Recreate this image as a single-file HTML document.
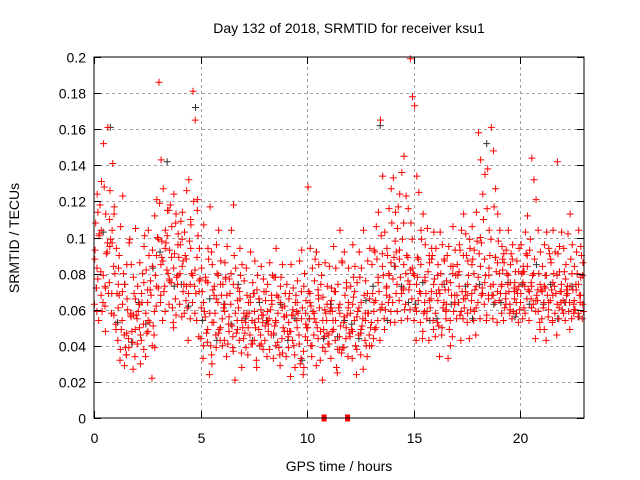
<!DOCTYPE html>
<html><head><meta charset="utf-8">
<style>
html,body{margin:0;padding:0;background:#fff;}
svg{display:block;font-family:"Liberation Sans",sans-serif;}
</style></head>
<body>
<svg id="chart" width="640" height="480" viewBox="0 0 640 480" xmlns="http://www.w3.org/2000/svg">
<rect width="640" height="480" fill="#fff"/>
<g id="grid"></g>
<g id="points"></g>
<rect x="94" y="57" width="490" height="361" fill="none" stroke="#000" stroke-width="1"/>
<g id="axes"></g>
<text x="349" y="33" font-size="14" text-anchor="middle">Day 132 of 2018, SRMTID for receiver ksu1</text>
<text x="19" y="238" font-size="14" text-anchor="middle" transform="rotate(-90 19 238)">SRMTID / TECUs</text>
<text x="339" y="471" font-size="14" text-anchor="middle">GPS time / hours</text>
</svg>
<script>
const xTicks=[0,5,10,15,20];
const yTicks=[0,0.02,0.04,0.06,0.08,0.1,0.12,0.14,0.16,0.18,0.2];
const yTickLabels=["0","0.02","0.04","0.06","0.08","0.1","0.12","0.14","0.16","0.18","0.2"];
const redUpper=[
.093,.124,.102,.131,.152,.113,.161,.126,.104,.117,
.094,.083,.106,.123,.074,.066,.097,.085,.078,.105,
.073,.086,.064,.095,.082,.104,.076,.093,.112,.121,
.186,.143,.127,.104,.115,.093,.106,.124,.113,.102,
.096,.114,.103,.126,.132,.107,.181,.165,.121,.094,
.083,.107,.076,.094,.117,.085,.073,.096,.104,.087,
.074,.086,.095,.077,.104,.118,.083,.072,.094,.085,
.076,.083,.064,.092,.075,.087,.071,.066,.084,.077,
.065,.074,.086,.063,.078,.094,.067,.073,.085,.062,
.074,.066,.085,.072,.064,.076,.087,.093,.073,.065,
.128,.094,.083,.076,.092,.085,.074,.067,.086,.073,
.084,.072,.095,.083,.074,.104,.086,.092,.075,.083,
.073,.096,.084,.075,.092,.083,.104,.076,.087,.094,
.085,.093,.106,.114,.165,.134,.103,.094,.116,.127,
.133,.114,.105,.124,.136,.145,.123,.116,.199,.178,
.173,.134,.125,.104,.113,.096,.105,.086,.094,.103,
.094,.085,.103,.096,.087,.076,.095,.084,.106,.093,
.085,.096,.104,.113,.102,.087,.094,.106,.093,.114,
.158,.143,.124,.135,.116,.104,.161,.148,.127,.113,
.104,.095,.086,.093,.104,.085,.096,.075,.087,.094,
.096,.084,.103,.112,.093,.144,.132,.121,.104,.092,
.084,.096,.103,.094,.086,.104,.092,.142,.095,.103,
.094,.085,.102,.113,.096,.084,.092,.104,.095,.086];
const redLower=[
.063,.072,.054,.081,.064,.073,.092,.075,.058,.084,
.052,.043,.032,.054,.046,.035,.044,.057,.042,.034,
.055,.063,.043,.052,.034,.064,.053,.022,.046,.062,
.072,.064,.054,.073,.082,.063,.075,.053,.066,.074,
.063,.056,.074,.065,.043,.055,.064,.073,.054,.045,
.044,.033,.056,.042,.024,.035,.053,.046,.064,.043,
.055,.043,.034,.052,.063,.045,.021,.054,.043,.036,
.044,.053,.035,.046,.054,.043,.032,.055,.046,.053,
.043,.034,.055,.046,.033,.054,.042,.035,.044,.056,
.034,.045,.023,.043,.035,.054,.046,.033,.024,.045,
.043,.055,.034,.046,.053,.044,.032,.021,.045,.054,
.046,.033,.054,.043,.025,.045,.036,.053,.044,.034,
.045,.033,.054,.024,.046,.035,.055,.043,.034,.046,
.053,.044,.065,.054,.043,.063,.055,.072,.064,.053,
.064,.053,.074,.065,.054,.072,.063,.055,.074,.066,
.054,.043,.065,.053,.044,.064,.055,.043,.066,.054,
.045,.053,.034,.046,.064,.055,.033,.054,.045,.063,
.055,.064,.043,.055,.066,.053,.044,.065,.054,.046,
.064,.055,.072,.063,.054,.066,.073,.055,.064,.053,
.065,.073,.054,.066,.074,.063,.055,.072,.064,.053,
.064,.055,.073,.066,.054,.075,.063,.044,.065,.053,
.055,.064,.043,.056,.065,.054,.073,.046,.055,.064,
.065,.054,.073,.064,.055,.063,.074,.056,.064,.055];
const redDenseA=[
.088,.059,.101,.068,.079,.048,.097,.110,.069,.057,
.049,.061,.038,.070,.029,.047,.039,.058,.027,.049,
.041,.050,.069,.038,.058,.048,.071,.040,.059,.090,
.099,.068,.087,.059,.101,.077,.089,.050,.108,.079,
.080,.099,.058,.088,.069,.110,.079,.058,.089,.070,
.061,.040,.078,.049,.058,.030,.068,.039,.079,.050,
.040,.059,.068,.048,.080,.037,.058,.049,.070,.028,
.058,.039,.050,.067,.041,.059,.028,.049,.060,.038,
.051,.059,.038,.068,.047,.040,.058,.029,.061,.048,
.057,.039,.048,.060,.028,.050,.041,.070,.037,.058,
.050,.069,.040,.058,.029,.068,.048,.039,.060,.047,
.041,.061,.049,.070,.038,.058,.087,.039,.050,.061,
.058,.048,.070,.038,.061,.049,.027,.058,.069,.040,
.040,.059,.050,.078,.060,.091,.049,.068,.080,.059,
.077,.098,.059,.088,.069,.108,.080,.089,.060,.099,
.079,.059,.088,.069,.048,.078,.059,.090,.070,.049,
.058,.079,.069,.050,.088,.060,.071,.040,.080,.068,
.068,.081,.059,.090,.070,.058,.099,.069,.080,.061,
.078,.100,.069,.088,.057,.079,.099,.068,.089,.070,
.080,.058,.091,.069,.079,.060,.088,.070,.058,.081,
.069,.081,.058,.090,.070,.061,.080,.059,.071,.049,
.070,.049,.079,.060,.088,.068,.058,.079,.061,.070,
.058,.077,.069,.049,.080,.060,.071,.058,.068,.079];
const redDenseB=[
.108,.077,.118,.059,.128,.091,.069,.099,.141,.080,
.069,.090,.049,.080,.039,.060,.099,.048,.069,.057,
.059,.030,.080,.101,.047,.090,.068,.051,.079,.100,
.119,.089,.070,.097,.080,.118,.061,.091,.078,.089,
.109,.070,.090,.061,.098,.080,.120,.069,.101,.077,
.070,.059,.047,.088,.040,.071,.058,.080,.049,.068,
.061,.077,.041,.069,.051,.090,.047,.061,.079,.050,
.047,.068,.058,.041,.069,.050,.079,.040,.057,.070,
.070,.048,.060,.079,.051,.068,.039,.078,.050,.069,
.048,.069,.057,.040,.068,.058,.030,.061,.080,.050,
.070,.040,.059,.088,.050,.061,.079,.049,.058,.041,
.059,.048,.070,.028,.061,.051,.039,.068,.057,.047,
.049,.067,.040,.059,.078,.051,.068,.040,.058,.050,
.069,.049,.088,.070,.101,.079,.060,.090,.067,.108,
.089,.069,.117,.078,.099,.060,.090,.071,.108,.080,
.061,.089,.070,.099,.058,.069,.081,.061,.090,.077,
.069,.051,.080,.061,.071,.090,.049,.068,.059,.079,
.079,.057,.070,.061,.090,.079,.060,.088,.071,.098,
.091,.068,.110,.079,.138,.090,.068,.117,.081,.098,
.069,.088,.061,.080,.070,.091,.059,.081,.069,.060,
.080,.061,.091,.071,.099,.079,.088,.068,.080,.071,
.061,.079,.068,.091,.071,.080,.069,.091,.070,.060,
.081,.068,.059,.088,.071,.060,.080,.068,.090,.059];
const redMid=[
.083,.104,.072,.095,.113, .074,.063,.085,.056,.066, .063,.075,.054,.084,.073, .085,.094,.076,.083,.096,
.084,.073,.094,.082,.076, .064,.075,.053,.066,.074, .063,.056,.074,.065,.054, .056,.064,.053,.066,.057,
.054,.065,.053,.064,.056, .053,.057,.064,.055,.052, .064,.055,.066,.054,.063, .065,.054,.063,.056,.064,
.063,.056,.064,.054,.066, .064,.075,.084,.073,.086, .084,.093,.085,.076,.083, .074,.085,.076,.065,.074,
.065,.074,.063,.075,.064, .073,.066,.074,.085,.073, .084,.075,.083,.074,.086, .074,.063,.075,.066,.073,
.075,.084,.073,.065,.074, .073,.064,.075,.063,.074, .064,.073,.065,.074,.063];
const redExtra=[
.114,.062,.097, .068,.035,.057, .046,.071,.039, .098,.115,.057, .087,.074,.115, .059,.092,.047,
.078,.039,.066, .058,.069,.041, .052,.078,.036, .048,.059,.028, .062,.071,.037, .059,.038,.072,
.078,.047,.058, .092,.061,.079, .092,.071,.082, .078,.059,.088, .071,.059,.084, .093,.068,.059,
.097,.068,.089, .082,.058,.071, .081,.066,.059, .072,.053,.081, .071,.058,.078];
const blackPts=[
.072,.103,.161, .053,.074,.042, .064,.052,.083, .092,.142,.073, .074,.062,.172, .054,.066,.043,
.063,.052,.074, .055,.043,.064, .054,.046,.063, .043,.055,.032, .055,.092,.044, .063,.045,.054,
.052,.044,.065, .073,.162,.054, .084,.073,.064, .063,.075,.054, .055,.074,.063, .064,.073,.055,
.074,.152,.063, .064,.075,.056, .074,.063,.085, .063,.074,.055, .064,.073,.056];
const zeroMarks=[10.8,11.9];

const X0=94,X1=584,Y0=418,Y1=57,XMAX=23,YMAX=0.2;
const sx=v=>X0+(X1-X0)*v/XMAX;
const sy=v=>Y0-(Y0-Y1)*v/YMAX;
const NS="http://www.w3.org/2000/svg";
const grid=document.getElementById('grid'),axes=document.getElementById('axes'),pts=document.getElementById('points');
function mk(tag,attrs,parent){const e=document.createElementNS(NS,tag);for(const k in attrs)e.setAttribute(k,attrs[k]);parent.appendChild(e);return e;}
yTicks.forEach((v,i)=>{
  const y=Math.round(sy(v))+0.5;
  if(i>0&&i<yTicks.length-1){const g=mk('line',{x1:X0,x2:X1,y1:y,y2:y,stroke:'#a0a0a0','stroke-dasharray':'3,3'},grid);
  
  }
  mk('line',{x1:X0,x2:X0+7,y1:y,y2:y,stroke:'#000'},axes);
  mk('line',{x1:X1,x2:X1-7,y1:y,y2:y,stroke:'#000'},axes);
  const t=mk('text',{x:X0-8,y:y+5,'font-size':14,'text-anchor':'end'},axes);
  t.textContent=yTickLabels[i];
  
  
});
xTicks.forEach(v=>{
  const x=Math.round(sx(v))+0.5;
  if(v>0){const g=mk('line',{x1:x,x2:x,y1:Y0,y2:Y1,stroke:'#a0a0a0','stroke-dasharray':'3,3'},grid);
  
  }
  mk('line',{x1:x,x2:x,y1:Y0,y2:Y0-7,stroke:'#000'},axes);
  mk('line',{x1:x,x2:x,y1:Y1,y2:Y1+7,stroke:'#000'},axes);
  const t=mk('text',{x:x,y:Y0+25,'font-size':14,'text-anchor':'middle'},axes);
  t.textContent=String(v);
  
  
});
function plus(x,y,color){
  const g=mk('path',{d:`M${x-3.5} ${y}H${x+3.5}M${x} ${y-3.5}V${y+3.5}`,stroke:color,'stroke-width':1,fill:'none'},pts);
  
  
}
function series(arr,per,color,off){
  arr.forEach((v,i)=>{const h=Math.floor(i/per),k=i%per;const t=h+(k+off)/per;plus(sx(t),sy(v),color);});
}
series(blackPts,3,'#333',0.3);
series(redUpper,10,'#ff0000',0.5);
series(redLower,10,'#ff0000',0.2);
series(redDenseA,10,'#ff0000',0.35);
series(redDenseB,10,'#ff0000',0.8);
series(redMid,5,'#ff0000',0.7);
series(redExtra,3,'#ff0000',0.55);
zeroMarks.forEach(v=>{const r=mk('rect',{x:sx(v)-2.5,y:Y0-3.5,width:5,height:7,fill:'#ff0000'},pts);

});
</script>
</body></html>
